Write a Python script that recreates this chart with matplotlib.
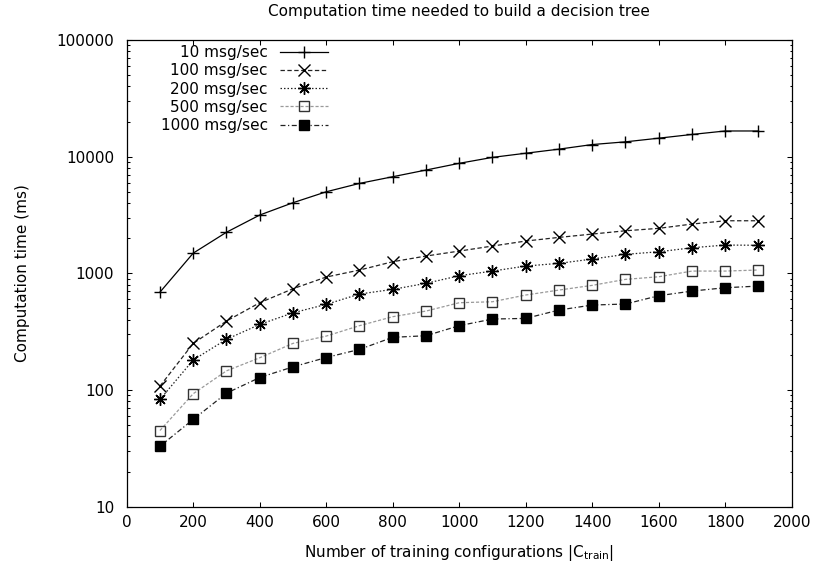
import matplotlib
matplotlib.use("Agg")
import matplotlib.pyplot as plt
from matplotlib.ticker import LogLocator, NullFormatter, NullLocator

# Training set sizes |C_train|
n_configs = [100, 200, 300, 400, 500, 600, 700, 800, 900, 1000,
             1100, 1200, 1300, 1400, 1500, 1600, 1700, 1800, 1900]

# Computation time (ms) per message rate
time_10 = [690, 1490, 2250, 3160, 4030, 5000, 5900, 6730, 7680, 8770,
           9860, 10700, 11600, 12700, 13400, 14400, 15500, 16600, 16600]
time_100 = [108, 251, 390, 560, 738, 930, 1067, 1258, 1407, 1552,
            1714, 1892, 2033, 2171, 2317, 2430, 2645, 2823, 2823]
time_200 = [83, 181, 272, 365, 459, 542, 665, 729, 821, 954,
            1046, 1155, 1218, 1326, 1455, 1531, 1657, 1748, 1740]
time_500 = [45, 93, 146, 189, 251, 290, 356, 425, 475, 560,
            571, 652, 719, 789, 888, 935, 1046, 1046, 1068]
time_1000 = [33, 56, 94, 128, 158, 190, 223, 283, 292, 356,
             406, 411, 485, 535, 546, 643, 705, 753, 778]

series_labels = ["10 msg/sec", "100 msg/sec", "200 msg/sec",
                 "500 msg/sec", "1000 msg/sec"]

x_ticks = [0, 200, 400, 600, 800, 1000, 1200, 1400, 1600, 1800, 2000]
y_ticks = [10, 100, 1000, 10000, 100000]
y_tick_labels = ["10", "100", "1000", "10000", "100000"]

title = "Computation time needed to build a decision tree"
x_label = r"Number of training configurations |C$_{\mathregular{train}}$|"
y_label = "Computation time (ms)"

plt.rcParams["font.family"] = ["DejaVu Sans"]
plt.rcParams["font.size"] = 11
plt.rcParams["mathtext.default"] = "regular"

fig = plt.figure(figsize=(8.18, 5.67), dpi=100)
ax = fig.add_axes([0.1549, 0.1063, 0.8130, 0.8232])

styles = [
    dict(color="black", ls="-", marker="+", ms=8.5, mew=1.0, mec="black", mfc="none"),
    dict(color="#222222", ls=(0, (3.5, 2.0)), marker="x", ms=8.5, mew=1.0, mec="black", mfc="none"),
    dict(color="#222222", ls=(0, (1.2, 1.6)), marker=(8, 2, 0), ms=9, mew=1.0, mec="black", mfc="none"),
    dict(color="#9a9a9a", ls=(0, (2.5, 1.5)), marker="s", ms=7.5, mew=1.0, mec="#333333", mfc="none"),
    dict(color="#222222", ls=(0, (4.0, 2.0, 1.0, 2.0)), marker="s", ms=7.5, mew=1.0, mec="black", mfc="black"),
]
series = [time_10, time_100, time_200, time_500, time_1000]

for values, label, st in zip(series, series_labels, styles):
    ax.plot(n_configs, values, label=label, lw=0.9, **st)

ax.set_yscale("log")
ax.set_xlim(0, 2000)
ax.set_ylim(10, 100000)
ax.set_xticks(x_ticks)
ax.set_yticks(y_ticks, labels=y_tick_labels)
ax.yaxis.set_minor_locator(LogLocator(base=10, subs=range(2, 10)))
ax.yaxis.set_minor_formatter(NullFormatter())
ax.xaxis.set_minor_locator(NullLocator())

ax.tick_params(which="both", direction="in", top=True, right=True, width=0.75)
ax.tick_params(which="major", length=3.5)
ax.tick_params(which="minor", length=1.8)
ax.tick_params(axis="x", pad=6)
ax.tick_params(axis="y", pad=9)
for sp in ax.spines.values():
    sp.set_linewidth(0.9)

ax.set_title(title, fontsize=11, pad=17)
ax.set_xlabel(x_label, labelpad=9)
ax.set_ylabel(y_label)
ax.yaxis.set_label_coords(-0.145, 0.5)

leg = ax.legend(loc="upper right", bbox_to_anchor=(0.302, 0.989),
                markerfirst=False, frameon=False, numpoints=1,
                handlelength=3.1, handletextpad=0.8, labelspacing=0.21,
                borderpad=0.0, borderaxespad=0.0)

fig.savefig("out.png", dpi=100)
